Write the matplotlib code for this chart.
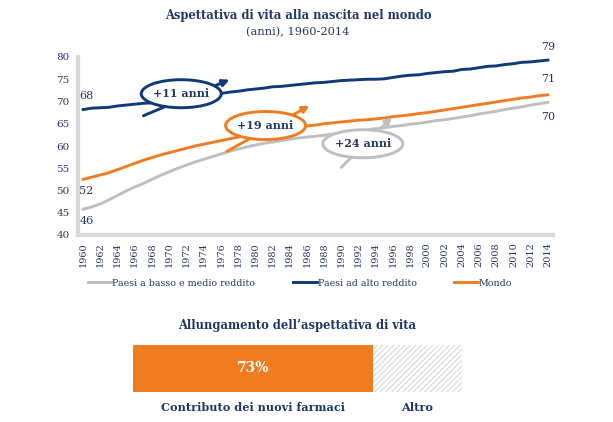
import numpy as np
import matplotlib
matplotlib.use('Agg')
import matplotlib.pyplot as plt
from matplotlib.patches import Ellipse

# Data
years = list(range(1960, 2015))
low_mid_income = [45.8, 46.3, 47.0, 47.9, 48.9, 49.9, 50.8, 51.6, 52.5, 53.4,
                  54.2, 55.0, 55.7, 56.4, 57.0, 57.6, 58.2, 58.8, 59.3, 59.8,
                  60.2, 60.6, 60.9, 61.2, 61.5, 61.8, 62.0, 62.2, 62.4, 62.7,
                  62.9, 63.1, 63.4, 63.6, 63.9, 64.1, 64.4, 64.6, 64.9, 65.1,
                  65.4, 65.7, 65.9, 66.2, 66.5, 66.8, 67.2, 67.5, 67.8, 68.2,
                  68.5, 68.8, 69.2, 69.5, 69.8]
high_income = [68.2, 68.5, 68.6, 68.7, 69.0, 69.2, 69.4, 69.6, 69.7, 69.8,
               70.1, 70.4, 70.6, 70.9, 71.2, 71.5, 71.8, 72.1, 72.3, 72.6,
               72.8, 73.0, 73.3, 73.4, 73.6, 73.8, 74.0, 74.2, 74.3, 74.5,
               74.7, 74.8, 74.9, 75.0, 75.0, 75.1, 75.4, 75.7, 75.9, 76.0,
               76.3, 76.5, 76.7, 76.8, 77.2, 77.3, 77.6, 77.9, 78.0, 78.3,
               78.5, 78.8, 78.9, 79.1, 79.3]
world = [52.5, 53.0, 53.5, 54.0, 54.7, 55.4, 56.1, 56.8, 57.4, 58.0,
         58.5, 59.0, 59.5, 60.0, 60.4, 60.8, 61.2, 61.6, 62.0, 62.4,
         62.7, 63.0, 63.3, 63.6, 63.9, 64.2, 64.5, 64.7, 65.0, 65.2,
         65.4, 65.6, 65.8, 65.9, 66.1, 66.3, 66.6, 66.8, 67.0, 67.3,
         67.5, 67.8, 68.1, 68.4, 68.7, 69.0, 69.3, 69.6, 69.9, 70.2,
         70.5, 70.8, 71.0, 71.3, 71.5]
series_names = ['Paesi a basso e medio reddito', 'Paesi ad alto reddito', 'Mondo']
start_labels = ['46', '68', '52']
end_labels = ['70', '79', '71']
gain_labels = ['+24 anni', '+11 anni', '+19 anni']

contrib_labels = ['Contributo dei nuovi farmaci', 'Altro']
contrib_values = [73, 27]

NAVY = '#1f3864'
LINE_NAVY = '#0e3a78'
ORANGE = '#f07c22'
GRAY = '#bfbfbf'
AXIS_GRAY = '#d9d9d9'

plt.rcParams['font.family'] = ['DejaVu Serif']
plt.rcParams['hatch.color'] = '#cccccc'
plt.rcParams['hatch.linewidth'] = 0.6

W, H = 613, 422
fig = plt.figure(figsize=(W / 100, H / 100), dpi=100)

def box(x0, y0, x1, y1):
    # pixel box (top-left origin) -> figure fraction
    return [x0 / W, 1 - y1 / H, (x1 - x0) / W, (y1 - y0) / H]

fig.text(298 / W, 1 - 15 / H, 'Aspettativa di vita alla nascita nel mondo',
         ha='center', va='center', fontsize=8.3, fontweight='bold', color=NAVY)
fig.text(298 / W, 1 - 32 / H, '(anni), 1960-2014',
         ha='center', va='center', fontsize=8.2, color=NAVY)

# line chart
ax = fig.add_axes(box(78, 57, 553, 235))
colors = [GRAY, LINE_NAVY, ORANGE]
data = [low_mid_income, high_income, world]
for name, vals, c in zip(series_names, data, colors):
    ax.plot(years, vals, color=c, lw=2.1, label=name, zorder=2)

ax.set_xlim(1959.4, 2014.6)
ax.set_ylim(40, 80)
ax.set_yticks(range(40, 81, 5))
ax.set_xticks(years[::2])
ax.set_xticklabels([str(y) for y in years[::2]], rotation=90)
ax.tick_params(length=0, labelsize=7.5, colors=NAVY, pad=6)
ax.tick_params(axis='x', pad=5, labelsize=7)
for s in ['top', 'right']:
    ax.spines[s].set_visible(False)
for s in ['left', 'bottom']:
    ax.spines[s].set_color(AXIS_GRAY)
    ax.spines[s].set_linewidth(3)

# start / end values
for vals, lab, dy in zip(data, start_labels, [-2.6, 3.0, -2.6]):
    ax.text(years[0] + 0.4, vals[0] + dy, lab, fontsize=8, color=NAVY,
            ha='center', va='center')
for vals, lab, dy in zip(data, end_labels, [-3.3, 2.9, 3.5]):
    ax.text(years[-1], vals[-1] + dy, lab, fontsize=8, color=NAVY,
            ha='center', va='center')

# annotations: arrow + ellipse
annots = [
    ((1992.5, 60.5), (1990.0, 55.2), (1995.9, 66.5), GRAY),
    ((1971.4, 71.75), (1967.0, 66.8), (1977.0, 74.9), LINE_NAVY),
    ((1981.2, 64.6), (1976.7, 58.8), (1986.3, 69.05), ORANGE),
]
for (center, p0, p1, c), lab in zip(annots, gain_labels):
    ax.annotate('', xy=p1, xytext=p0,
                arrowprops=dict(arrowstyle='-|>,head_length=0.4,head_width=0.2',
                                color=c, lw=2.1, shrinkA=0, shrinkB=0),
                zorder=3)
    ax.add_patch(Ellipse(center, 9.3, 6.3, facecolor='white', edgecolor=c,
                         lw=2.1, zorder=4))
    ax.text(center[0], center[1], lab, fontsize=8, fontweight='bold',
            color=NAVY, ha='center', va='center', zorder=5)

ax.legend(loc='center', bbox_to_anchor=(300 / W, 1 - 283 / H),
          bbox_transform=fig.transFigure, ncol=3, frameon=False,
          fontsize=6.8, handlelength=2.5, handletextpad=0.1,
          columnspacing=4.0, labelcolor=NAVY)

fig.text(297 / W, 1 - 325 / H, "Allungamento dell\u2019aspettativa di vita",
         ha='center', va='center', fontsize=8.3, fontweight='bold', color=NAVY)

# contribution bar
bx = fig.add_axes(box(133, 345, 462, 392))
bx.barh(0, contrib_values[0], height=1, color=ORANGE, lw=0)
bx.barh(0, contrib_values[1], left=contrib_values[0], height=1,
        facecolor='white', edgecolor='#cccccc', hatch='//////', lw=0)
bx.set_xlim(0, sum(contrib_values))
bx.set_ylim(-0.5, 0.5)
bx.axis('off')
bx.text(contrib_values[0] / 2, 0, f'{contrib_values[0]}%', color='white',
        fontsize=10, fontweight='bold', ha='center', va='center')
lefts = [0, contrib_values[0]]
for lab, v, l in zip(contrib_labels, contrib_values, lefts):
    bx.text(l + v / 2, -0.82, lab, color=NAVY, fontsize=8.1, fontweight='bold',
            ha='center', va='center')

fig.savefig('out.png', dpi=100)
